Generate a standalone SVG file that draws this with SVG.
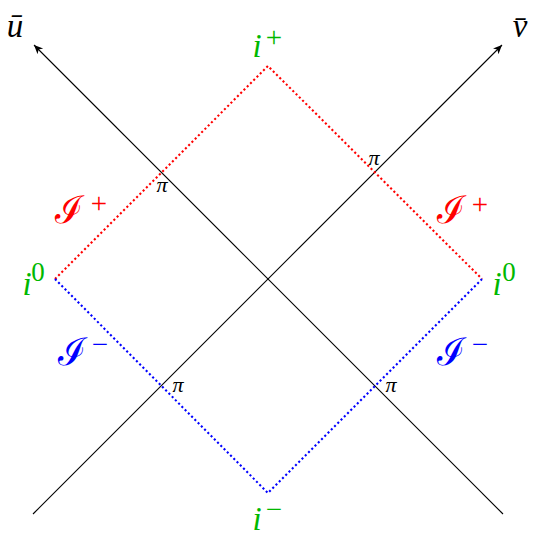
<svg xmlns="http://www.w3.org/2000/svg" width="535" height="541" viewBox="0 0 535 541">
<style>
.ax{stroke:#000;stroke-width:1.1;fill:none}
.red{stroke:#ff0000;stroke-width:2.1;fill:none;stroke-dasharray:2.1 2.5}
.blue{stroke:#0000ff;stroke-width:2.1;fill:none;stroke-dasharray:2.1 2.5}
.m{font-family:"Liberation Serif","DejaVu Serif",serif;font-style:italic;font-size:33px}
.s{font-family:"Liberation Serif","DejaVu Serif",serif;font-size:27px}
.op{font-family:"Liberation Serif","DejaVu Serif",serif;font-size:29px}
.pi{font-family:"Liberation Serif","DejaVu Serif",serif;font-style:italic;font-size:22px;fill:#000}
.scr{font-family:"DejaVu Serif","Noto Sans",serif;font-style:italic;font-size:38px}
.g{fill:#00b800}
.r{fill:#ff0000}
.b{fill:#0000ff}
</style>
<defs>
<marker id="arr" markerUnits="userSpaceOnUse" markerWidth="12" markerHeight="10" refX="9" refY="4" orient="auto">
<path d="M0,0 L9,4 L0,8 L2.5,4 z" fill="#000"/>
</marker>
</defs>
<g id="connectors">
<line class="ax" x1="33" y1="514" x2="502" y2="45" marker-end="url(#arr)"/>
<line class="ax" x1="503" y1="514" x2="34" y2="45" marker-end="url(#arr)"/>
<polyline class="red" points="55,279 268,66 482,279"/>
<polyline class="blue" points="55,279 268,493 482,279"/>
</g>
<g id="u-label"><text class="m" x="15" y="37" text-anchor="middle">ū</text></g>
<g id="v-label"><text class="m" x="520" y="37" text-anchor="middle">v̄</text></g>
<g id="i-plus"><text class="m g" x="257" y="57" text-anchor="middle">i</text><text class="op g" x="274" y="47" text-anchor="middle">+</text></g>
<g id="i-minus"><text class="m g" x="257" y="530" text-anchor="middle">i</text><text class="op g" x="274" y="519" text-anchor="middle">−</text></g>
<g id="i0-left"><text class="m g" x="27" y="295" text-anchor="middle">i</text><text class="s g" x="38" y="281" text-anchor="middle">0</text></g>
<g id="i0-right"><text class="m g" x="497" y="295" text-anchor="middle">i</text><text class="s g" x="509" y="281" text-anchor="middle">0</text></g>
<g id="scri-plus-left"><text class="scr r" x="69" y="223" text-anchor="middle">ℐ</text><text class="op r" x="99" y="213" text-anchor="middle">+</text></g>
<g id="scri-plus-right"><text class="scr r" x="451" y="223" text-anchor="middle">ℐ</text><text class="op r" x="480" y="214" text-anchor="middle">+</text></g>
<g id="scri-minus-left"><text class="scr b" x="72" y="365" text-anchor="middle">ℐ</text><text class="op b" x="100" y="354" text-anchor="middle">−</text></g>
<g id="scri-minus-right"><text class="scr b" x="451" y="365" text-anchor="middle">ℐ</text><text class="op b" x="480" y="354" text-anchor="middle">−</text></g>
<g id="pi-labels">
<text class="pi" x="162" y="192" text-anchor="middle">π</text>
<text class="pi" x="374" y="165" text-anchor="middle">π</text>
<text class="pi" x="178" y="392" text-anchor="middle">π</text>
<text class="pi" x="391" y="392" text-anchor="middle">π</text>
</g>
</svg>
